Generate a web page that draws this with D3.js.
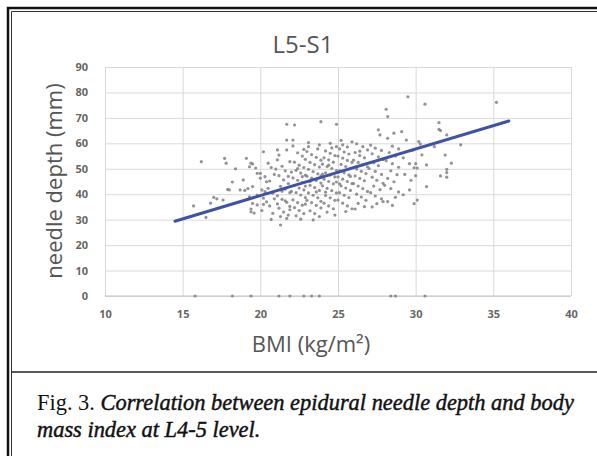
<!DOCTYPE html>
<html>
<head>
<meta charset="utf-8">
<script src="https://cdn.jsdelivr.net/npm/d3@7"></script>
<style>
  body { margin: 0; background: #fff; }
  svg { display: block; }
</style>
</head>
<body>
<svg id="chart" width="597" height="456"></svg>
<script>
// values: [BMI, needle depth]
const patients = [
    [15.7,35.4],[16.2,52.8],[16.5,30.9],[17.0,38.8],[17.2,38.2],[17.7,54.1],[17.8,52.2],[17.9,41.9],[18.0,41.7],[18.4,50.0],
    [18.7,41.7],[19.0,41.5],[19.1,54.1],[19.2,42.2],[19.3,50.8],[19.4,52.2],[19.3,39.0],[19.5,36.4],[19.4,33.1],[19.5,43.0],
    [19.5,51.9],[19.7,50.3],[19.8,48.2],[19.8,39.7],[19.8,35.8],[19.4,34.2],[19.6,32.6],[17.6,37.7],[16.8,36.5],[18.2,44.8],[18.9,45.6],
    [20.0,48.2],[20.2,56.7],[20.5,52.2],[20.0,46.3],[20.3,46.9],[20.4,44.9],[20.1,41.7],[20.3,41.0],[20.5,42.3],[20.2,38.5],
    [20.4,37.0],[20.6,35.4],[20.1,33.6],[20.8,32.5],[20.7,50.5],[20.9,47.8],[20.6,45.2],[20.8,40.4],[20.9,38.2],[20.2,36.0],[20.7,30.1],
    [21.1,57.4],[21.2,55.4],[21.7,57.4],[21.7,67.5],[22.2,67.2],[21.7,61.3],[22.1,61.3],[21.3,27.9],[21.1,53.5],[21.4,51.0],
    [21.6,49.2],[21.2,47.3],[21.5,45.6],[21.8,44.2],[21.3,43.1],[21.6,42.0],[21.9,40.6],[21.1,39.4],[21.4,38.0],[21.7,36.8],
    [21.9,35.2],[21.2,34.5],[21.5,33.0],[21.8,31.8],[21.3,31.2],[21.9,52.8],[21.0,49.9],[21.8,47.0],[21.4,41.2],[21.6,37.4],
    [21.1,36.2],[21.9,33.9],[21.7,30.5],
    [22.1,59.0],[22.4,56.3],[22.7,55.0],[22.9,53.7],[22.2,52.6],[22.5,51.4],[22.8,50.5],[22.3,49.4],[22.6,48.3],[22.9,47.5],
    [22.1,46.4],[22.4,45.5],[22.7,44.6],[22.2,43.5],[22.5,42.4],[22.8,41.7],[22.3,40.6],[22.6,39.7],[22.9,38.7],[22.1,37.8],
    [22.4,36.7],[22.7,35.7],[22.2,34.7],[22.5,33.6],[22.8,32.4],[22.3,31.5],[22.6,30.2],[22.9,36.1],[22.0,41.1],[22.9,43.2],
    [22.4,50.1],[22.7,46.9],[22.0,48.7],[23.1,60.3],[22.8,57.6],
    [23.9,68.5],[23.8,59.4],[23.0,56.8],[23.3,55.6],[23.6,54.5],[23.9,53.4],[23.2,52.5],[23.5,51.6],[23.8,50.7],[23.1,49.8],
    [23.4,48.9],[23.7,48.0],[23.0,47.1],[23.3,46.3],[23.6,45.4],[23.9,44.4],[23.2,43.5],[23.5,42.6],[23.8,41.5],[23.1,40.5],
    [23.4,39.6],[23.7,38.6],[23.0,37.6],[23.3,36.7],[23.6,35.6],[23.9,34.6],[23.2,33.5],[23.5,32.4],[23.8,31.2],[23.4,29.9],
    [23.7,57.8],[23.1,58.7],[23.9,47.2],[23.2,45.0],[23.6,40.9],[23.9,37.2],
    [24.9,67.5],[24.5,60.0],[24.9,58.7],[24.2,57.0],[24.5,56.1],[24.8,55.2],[24.1,54.3],[24.4,53.5],[24.7,52.6],[24.0,51.8],
    [24.3,50.9],[24.6,50.1],[24.9,49.3],[24.2,48.4],[24.5,47.6],[24.8,46.8],[24.1,45.9],[24.4,45.0],[24.7,44.1],[24.0,43.3],
    [24.3,42.3],[24.6,41.4],[24.9,40.5],[24.2,39.5],[24.5,38.6],[24.8,37.6],[24.1,36.5],[24.4,35.4],[24.7,34.3],[24.3,33.0],
    [24.8,31.8],[24.6,58.2],[24.0,47.9],[24.9,44.8],[24.4,51.4],[24.2,40.8],
    [25.3,59.4],[25.1,57.8],[25.4,56.6],[25.7,55.8],[25.0,55.0],[25.3,54.2],[25.6,53.3],[25.9,52.5],[25.2,51.7],[25.5,50.9],
    [25.8,50.1],[25.1,49.2],[25.4,48.4],[25.7,47.6],[25.0,46.8],[25.3,45.9],[25.6,45.0],[25.9,44.2],[25.2,43.3],[25.5,42.4],
    [25.8,41.5],[25.1,40.6],[25.4,39.6],[25.7,38.7],[25.0,37.7],[25.3,36.5],[25.6,35.4],[25.9,34.3],[25.5,33.2],[25.9,60.6],
    [25.6,58.6],[25.2,61.2],[25.8,47.0],[25.1,44.1],
    [26.2,59.8],[26.6,58.7],[26.9,57.4],[26.1,56.4],[26.4,55.2],[26.7,54.3],[26.0,53.4],[26.3,52.5],[26.6,51.6],[26.9,50.8],
    [26.2,49.9],[26.5,49.0],[26.8,48.1],[26.1,47.2],[26.4,46.2],[26.7,45.3],[26.0,44.2],[26.3,43.2],[26.6,42.2],[26.9,41.1],
    [26.2,40.0],[26.5,38.9],[26.8,37.6],[26.3,36.4],[26.7,35.1],[26.1,34.2],[26.4,56.9],
    [27.6,65.3],[27.7,63.3],[27.1,59.3],[27.4,58.1],[27.8,57.2],[27.2,55.9],[27.6,54.7],[27.9,53.6],[27.3,52.4],[27.6,51.2],
    [27.0,50.1],[27.4,49.0],[27.8,47.8],[27.2,46.7],[27.5,45.5],[27.9,44.3],[27.3,43.2],[27.7,41.8],[27.1,40.6],[27.4,39.3],
    [27.8,38.2],[27.9,37.1],[27.5,36.3],[27.2,35.0],
    [28.1,73.4],[28.2,70.5],[28.6,64.0],[28.2,62.0],[28.5,58.9],[28.9,57.8],[28.3,56.4],[28.7,55.0],[28.1,53.2],[28.5,52.0],
    [28.9,50.6],[28.4,49.2],[28.8,47.7],[28.2,46.2],[28.6,44.9],[28.0,43.5],[28.4,42.2],[28.9,40.9],[28.2,37.1],[28.7,38.8],[28.5,35.6],
    [29.5,78.3],[29.1,64.6],[29.4,61.3],[29.8,57.3],[29.2,54.3],[29.6,52.0],[29.9,50.4],[29.3,47.8],[29.7,45.5],[29.6,41.7],
    [29.2,39.8],[29.9,36.3],
    [30.6,75.4],[30.2,60.7],[30.3,59.7],[30.0,52.0],[30.1,50.3],[30.0,47.3],[30.7,51.5],[30.1,37.7],[30.7,43.0],[30.4,55.5],
    [31.5,68.1],[31.5,65.5],[31.6,65.0],[32.0,63.3],[32.9,59.4],[31.2,58.7],[31.9,55.4],[32.3,52.2],[32.0,49.8],[32.0,48.5],
    [32.0,46.7],[31.6,47.2],[35.2,76.1],
    [15.8,0],[18.2,0],[19.4,0],[21.2,0],[21.9,0],[22.8,0],[23.3,0],[23.8,0],[28.4,0],[28.7,0],[30.6,0]
];

// linear trend line end points
const trendBmi = [14.5, 36.0];
const trendDepth = [29.4, 68.8];

const xTicks = [10, 15, 20, 25, 30, 35, 40];
const yTicks = [0, 10, 20, 30, 40, 50, 60, 70, 80, 90];

const chartTitle = "L5-S1";
const xTitle = "BMI (kg/m\u00b2)";
const yTitle = "needle depth (mm)";
const captionLead = "Fig. 3. ";
const captionLine1 = "Correlation between epidural needle depth and body";
const captionLine2 = "mass index at L4-5 level.";

const svg = d3.select("#chart");
const plot = { left: 105, right: 571, top: 67, bottom: 296 };

const x = d3.scaleLinear().domain([10, 40]).range([plot.left, plot.right]);
const y = d3.scaleLinear().domain([0, 90]).range([plot.bottom, plot.top]);

const textGray = "#555555";
const sans = "'Open Sans', 'Noto Sans', sans-serif";

// page frame
const frame = svg.append("g").attr("fill", "none");
frame.append("path").attr("d", "M8,456 V8 H597").attr("stroke", "#111").attr("stroke-width", 2.5);
frame.append("path").attr("d", "M11.5,456 V11.5 H597").attr("stroke", "#333").attr("stroke-width", 1);
frame.append("line").attr("x1", 11.5).attr("x2", 597).attr("y1", 372).attr("y2", 372)
    .attr("stroke", "#222").attr("stroke-width", 1.5);

// gridlines
const xGrid = svg.append("g")
    .attr("transform", `translate(0, ${plot.bottom})`)
    .call(d3.axisBottom(x).tickValues(xTicks).tickSize(-(plot.bottom - plot.top)).tickFormat(""));
const yGrid = svg.append("g")
    .attr("transform", `translate(${plot.left}, 0)`)
    .call(d3.axisLeft(y).tickValues(yTicks).tickSize(-(plot.right - plot.left)).tickFormat(""));
[xGrid, yGrid].forEach((g) => {
    g.select(".domain").remove();
    g.selectAll("line").attr("stroke", "#d9d9d9").attr("stroke-width", 1);
});
svg.append("line")
    .attr("x1", plot.left).attr("x2", plot.right)
    .attr("y1", y(0)).attr("y2", y(0))
    .attr("stroke", "#c4c4c4").attr("stroke-width", 1.2);

// tick labels
const xAxis = svg.append("g")
    .attr("transform", `translate(0, ${plot.bottom})`)
    .call(d3.axisBottom(x).tickValues(xTicks).tickSize(0).tickPadding(14));
const yAxis = svg.append("g")
    .attr("transform", `translate(${plot.left}, 0)`)
    .call(d3.axisLeft(y).tickValues(yTicks).tickSize(0).tickPadding(17));
[xAxis, yAxis].forEach((g) => {
    g.select(".domain").remove();
    g.selectAll("text")
        .attr("fill", "#666666")
        .style("font-family", sans)
        .style("font-size", "11px")
        .style("font-weight", "700");
});

// scatter points
svg.append("g")
    .selectAll("circle")
    .data(patients)
    .enter()
    .append("circle")
    .attr("cx", (d) => x(d[0]))
    .attr("cy", (d) => y(d[1]))
    .attr("r", 1.6)
    .attr("fill", "#808080")
    .attr("fill-opacity", 0.85);

// trend line
const trend = d3.line()
    .x((d) => x(d[0]))
    .y((d) => y(d[1]));
svg.append("path")
    .datum(d3.zip(trendBmi, trendDepth))
    .attr("d", trend)
    .attr("fill", "none")
    .attr("stroke", "#3f53a6")
    .attr("stroke-width", 3)
    .attr("stroke-linecap", "round");

// titles
svg.append("text")
    .attr("x", 303).attr("y", 53)
    .attr("text-anchor", "middle")
    .attr("fill", textGray)
    .style("font-family", sans)
    .style("font-size", "24px")
    .text(chartTitle);

svg.append("text")
    .attr("x", 311).attr("y", 352)
    .attr("text-anchor", "middle")
    .attr("fill", textGray)
    .style("font-family", sans)
    .style("font-size", "22px")
    .text(xTitle);

svg.append("text")
    .attr("transform", "translate(62, 181) rotate(-90)")
    .attr("text-anchor", "middle")
    .attr("fill", textGray)
    .style("font-family", sans)
    .style("font-size", "22px")
    .text(yTitle);

// caption
const serif = "'Liberation Serif', 'DejaVu Serif', serif";
const cap1 = svg.append("text")
    .attr("x", 37).attr("y", 410)
    .attr("fill", "#111")
    .style("font-family", serif)
    .style("font-size", "21px");
cap1.append("tspan").text(captionLead);
cap1.append("tspan")
    .style("font-style", "italic")
    .attr("stroke", "#111").attr("stroke-width", 0.45)
    .text(captionLine1);

const cap2 = svg.append("text")
    .attr("x", 37).attr("y", 437)
    .attr("fill", "#111")
    .attr("stroke", "#111").attr("stroke-width", 0.45)
    .style("font-family", serif)
    .style("font-size", "21px")
    .style("font-style", "italic")
    .text(captionLine2);

// fit the first caption line to its printed width
const w = cap1.node().getComputedTextLength();
const fs = 21 * 537 / w;
cap1.style("font-size", fs + "px");
cap2.style("font-size", fs + "px");
</script>
</body>
</html>
